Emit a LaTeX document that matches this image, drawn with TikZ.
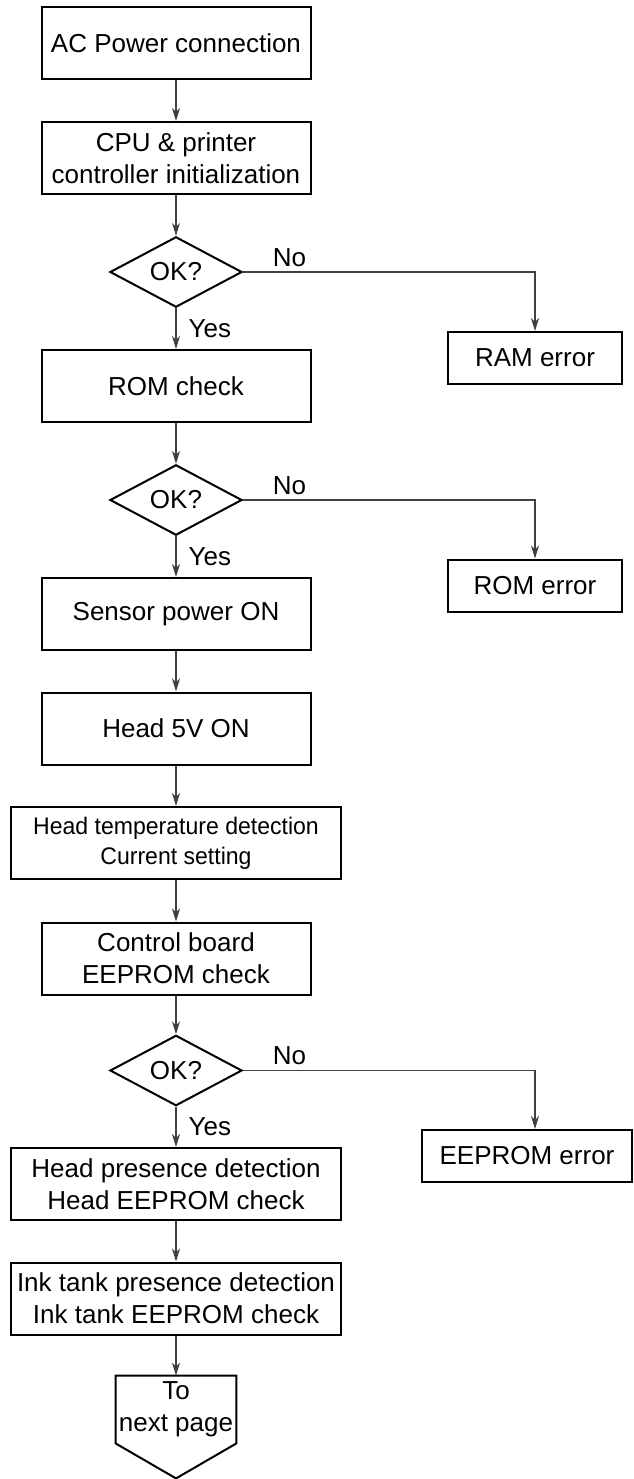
\documentclass[tikz,border=0pt]{standalone}
\usepackage{fontspec}
\setmainfont{Liberation Sans}
\usetikzlibrary{shapes.geometric,arrows.meta}
\tikzset{
  box/.style={draw, line width=1pt, minimum width=134.5pt, minimum height=36pt,
    align=center, inner sep=0pt, font=\fontsize{13}{16}\selectfont},
  widebox/.style={box, minimum width=165pt},
  errbox/.style={box, minimum width=87pt, minimum height=26pt},
  decision/.style={draw, diamond, line width=1pt, minimum width=66pt,
    minimum height=35pt, inner sep=0pt, font=\fontsize{13}{16}\selectfont},
  conn/.style={draw=black!75, line width=0.6pt,
    -{Stealth[length=6.5pt,width=4pt,inset=2pt]}},
  lbl/.style={inner sep=0pt, font=\fontsize{13}{16}\selectfont}
}
\begin{document}
\begin{tikzpicture}[x=0.5pt, y=-0.5pt]
    \useasboundingbox (0,0) rectangle (633,1479);

    % Main column
    \node[box] (power) at (176,43) {AC Power connection};
    \node[box] (cpuinit) at (176,158) {CPU \& printer\\controller initialization};
    \node[decision] (ok1) at (176,272) {OK?};
    \node[box] (romchk) at (176,386) {ROM check};
    \node[decision] (ok2) at (176,500) {OK?};
    \node[box] (sensor) at (176,614) {Sensor power ON};
    \node[box] (headv) at (176,728.5) {Head 5V ON};
    \node[widebox, font=\fontsize{12}{15}\selectfont\addfontfeature{FakeStretch=0.96}]
        (headtemp) at (176,843) {Head temperature detection\\Current setting};
    \node[box] (ctrlbd) at (176,958.5) {Control board\\EEPROM check};
    \node[decision] (ok3) at (176,1070.5) {OK?};
    \node[widebox] (headpres) at (176,1184) {Head presence detection\\Head EEPROM check};
    \node[widebox] (inktank) at (176,1298.5) {Ink tank presence detection\\Ink tank EEPROM check};

    % Off-page connector
    \node[lbl, minimum width=60pt, minimum height=33.5pt, align=center]
        (next) at (176,1409.5) {To\\next page};
    \draw[line width=1pt] (next.north west) -- (next.north east) -- (next.south east)
        -- ([yshift=-17.5pt]next.south) -- (next.south west) -- cycle;

    % Error boxes
    \node[errbox] (ramerr) at (535,358) {RAM error};
    \node[errbox] (romerr) at (535,585.5) {ROM error};
    \node[errbox, minimum width=105pt] (eeperr) at (527,1156) {EEPROM error};

    % Flow
    \draw[conn] (power) -- (cpuinit);
    \draw[conn] (cpuinit) -- (ok1);
    \draw[conn] (ok1) -- node[lbl, right=6pt] {Yes} (romchk);
    \draw[conn] (romchk) -- (ok2);
    \draw[conn] (ok2) -- node[lbl, right=6pt] {Yes} (sensor);
    \draw[conn] (sensor) -- (headv);
    \draw[conn] (headv) -- (headtemp);
    \draw[conn] (headtemp) -- (ctrlbd);
    \draw[conn] (ctrlbd) -- (ok3);
    \draw[conn] (ok3) -- node[lbl, right=6pt] {Yes} (headpres);
    \draw[conn] (headpres) -- (inktank);
    \draw[conn] (inktank) -- (next);

    % No branches
    \draw[conn] (ok1.east) -| node[lbl, pos=0.05, anchor=south west, yshift=2.5pt] {No} (ramerr.north);
    \draw[conn] (ok2.east) -| node[lbl, pos=0.05, anchor=south west, yshift=2.5pt] {No} (romerr.north);
    \draw[conn] (ok3.east) -| node[lbl, pos=0.05, anchor=south west, yshift=2.5pt] {No} (eeperr.north -| romerr.north);
\end{tikzpicture}
\end{document}
